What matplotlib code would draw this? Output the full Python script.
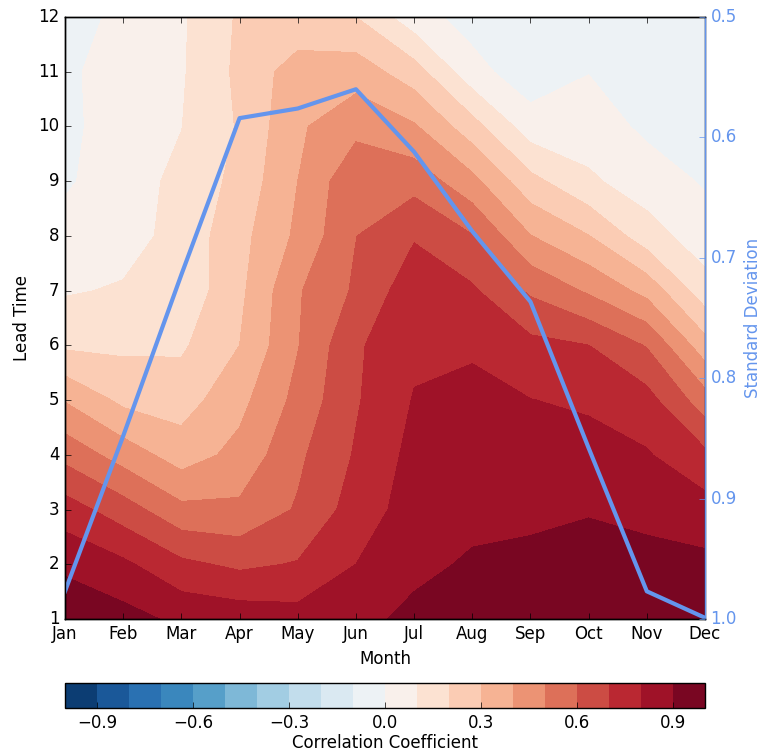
import numpy as np
import matplotlib
matplotlib.use("Agg")
import matplotlib.pyplot as plt

months = ["Jan", "Feb", "Mar", "Apr", "May", "Jun", "Jul", "Aug", "Sep", "Oct", "Nov", "Dec"]
lead_times = [1, 2, 3, 4, 5, 6, 7, 8, 9, 10, 11, 12]

# correlation coefficient per start month, for lead times 1..12
corr_jan = [0.98, 0.877, 0.748, 0.568, 0.393, 0.183, 0.09, 0.04, -0.015, -0.03, -0.025, -0.08]
corr_feb = [0.936, 0.82, 0.646, 0.456, 0.276, 0.18, 0.11, 0.06, 0.06, 0.06, 0.06, 0.045]
corr_mar = [0.878, 0.722, 0.526, 0.351, 0.255, 0.185, 0.13, 0.135, 0.122, 0.098, 0.089, 0.086]
corr_apr = [0.86, 0.68, 0.52, 0.43, 0.37, 0.30, 0.277, 0.267, 0.232, 0.21, 0.223, 0.214]
corr_may = [0.84, 0.707, 0.61, 0.58, 0.53, 0.495, 0.49, 0.42, 0.40, 0.385, 0.351, 0.22]
corr_jun = [0.876, 0.80, 0.744, 0.71, 0.69, 0.685, 0.615, 0.598, 0.58, 0.469, 0.354, 0.2]
corr_jul = [0.92, 0.88, 0.846, 0.83, 0.806, 0.78, 0.762, 0.691, 0.563, 0.412, 0.245, 0.04]
corr_aug = [0.93, 0.91, 0.878, 0.849, 0.82, 0.79, 0.715, 0.605, 0.43, 0.24, 0.035, -0.04]
corr_sep = [0.96, 0.921, 0.881, 0.842, 0.802, 0.728, 0.584, 0.403, 0.231, 0.045, -0.06, -0.05]
corr_oct = [0.97, 0.944, 0.892, 0.841, 0.783, 0.701, 0.485, 0.303, 0.116, 0.051, -0.003, -0.05]
corr_nov = [0.96, 0.933, 0.871, 0.809, 0.738, 0.593, 0.368, 0.144, 0.049, -0.02, -0.05, -0.06]
corr_dec = [0.96, 0.924, 0.84, 0.722, 0.544, 0.34, 0.14, 0.045, -0.01, -0.03, -0.05, -0.06]

std_dev = [0.977, 0.848, 0.714, 0.584, 0.576, 0.560, 0.612, 0.678, 0.7365, 0.858, 0.977, 0.999]

cbar_ticks = [-0.9, -0.6, -0.3, 0.0, 0.3, 0.6, 0.9]
std_ticks = [0.5, 0.6, 0.7, 0.8, 0.9, 1.0]

plt.style.use("classic")
plt.rcParams["font.family"] = ["DejaVu Sans"]

fig = plt.figure(figsize=(7.6, 7.53), dpi=100, facecolor="white")
W, H = 760.0, 753.0
ax = fig.add_axes([65 / W, 1 - 619 / H, 640 / W, 602 / H])

x = np.arange(len(months))
Z = np.array([corr_jan, corr_feb, corr_mar, corr_apr, corr_may, corr_jun,
              corr_jul, corr_aug, corr_sep, corr_oct, corr_nov, corr_dec]).T
levels = np.linspace(-1, 1, 21)
cf = ax.contourf(x, lead_times, Z, levels=levels, cmap="RdBu_r")
ax.set_xlim(0, 11)
ax.set_ylim(1, 12)
ax.set_xticks(x)
ax.set_xticklabels(months)
ax.set_yticks(lead_times)
ax.set_xlabel("Month")
ax.set_ylabel("Lead Time")

ax2 = ax.twinx()
ax2.plot(x, std_dev, color="cornflowerblue", lw=3)
ax2.set_ylim(1.0, 0.5)
ax2.set_yticks(std_ticks)
ax2.set_ylabel("Standard Deviation", color="cornflowerblue")
ax2.tick_params(axis="y", colors="cornflowerblue")
ax2.spines["right"].set_color("cornflowerblue")

cax = fig.add_axes([65 / W, 1 - 708 / H, 640 / W, 25 / H])
cb = fig.colorbar(cf, cax=cax, orientation="horizontal", ticks=cbar_ticks)
cb.set_label("Correlation Coefficient", labelpad=2)

fig.savefig("out.png", dpi=100, facecolor="white")
